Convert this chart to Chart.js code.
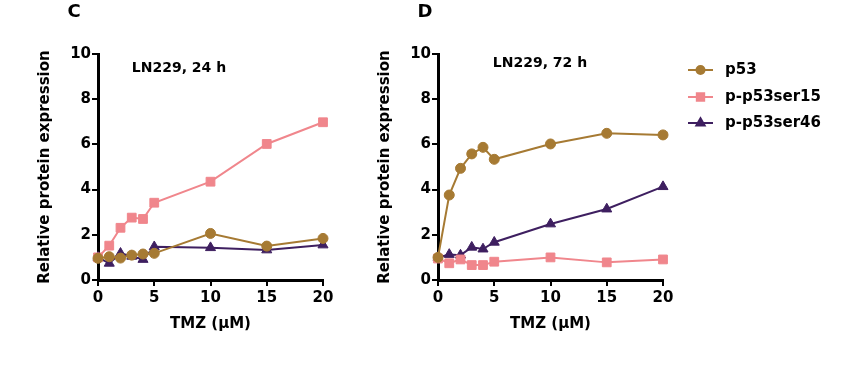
<!DOCTYPE html>
<html>
<head>
<meta charset="utf-8">
<script src="https://cdn.jsdelivr.net/npm/chart.js@4"></script>
<style>
  html, body { margin: 0; padding: 0; background: #fff; }
  #wrap { position: relative; width: 850px; height: 368px; overflow: hidden; }
  canvas { position: absolute; top: 0; }
  #cC { left: 0; }
  #cD { left: 340px; }
</style>
</head>
<body>
<div id="wrap">
  <canvas id="cC" width="340" height="368"></canvas>
  <canvas id="cD" width="510" height="368"></canvas>
</div>
<script>
const doses = [0, 1, 2, 3, 4, 5, 10, 15, 20];
const seriesNames = ['p53', 'p-p53ser15', 'p-p53ser46'];
const p53_24h   = [0.96, 1.03, 0.97, 1.10, 1.15, 1.18, 2.06, 1.50, 1.84];
const ser15_24h = [1.00, 1.52, 2.31, 2.76, 2.70, 3.42, 4.35, 6.02, 6.98];
const ser46_24h = [1.00, 0.74, 1.18, 1.05, 0.91, 1.47, 1.43, 1.33, 1.55];
const p53_72h   = [1.00, 3.76, 4.94, 5.58, 5.87, 5.34, 6.02, 6.49, 6.42];
const ser15_72h = [0.95, 0.74, 0.91, 0.66, 0.66, 0.81, 1.00, 0.78, 0.91];
const ser46_72h = [1.00, 1.13, 1.10, 1.45, 1.37, 1.67, 2.48, 3.14, 4.13];
const xTicks = [0, 5, 10, 15, 20];
const yTicks = [0, 2, 4, 6, 8, 10];

const colors = ['#a67a33', '#f0868c', '#3e1f60'];
const shapes = ['circle', 'rect', 'triangle'];
const radii = [5, 6.2, 5.8];

Chart.defaults.font.family = "'DejaVu Sans', sans-serif";
Chart.defaults.font.weight = 'bold';
Chart.defaults.color = '#000';

function pts(vals) { return doses.map((d, i) => ({ x: d, y: vals[i] })); }

function makeDatasets(list) {
  return list.map((vals, i) => ({
    label: seriesNames[i],
    data: pts(vals),
    borderColor: colors[i],
    backgroundColor: colors[i],
    pointBackgroundColor: colors[i],
    pointBorderColor: colors[i],
    pointStyle: shapes[i],
    pointRadius: radii[i],
    pointBorderWidth: 1,
    borderWidth: 2,
    tension: 0,
    clip: false
  }));
}

const textPlugin = {
  id: 'panelText',
  afterDraw(chart, args, opts) {
    const ctx = chart.ctx;
    ctx.save();
    ctx.fillStyle = '#000';
    ctx.textBaseline = 'middle';
    ctx.textAlign = 'center';
    ctx.font = "bold 18px 'DejaVu Sans'";
    ctx.fillText(opts.letter, opts.letterX, opts.letterY);
    ctx.font = "bold 14px 'DejaVu Sans'";
    ctx.fillText(opts.title, opts.titleX, opts.titleY);
    if (opts.legend) {
      const lx = opts.legendX, rows = opts.legendRows;
      chart.data.datasets.forEach((ds, i) => {
        const y = rows[i];
        ctx.strokeStyle = ds.borderColor;
        ctx.lineWidth = 2;
        ctx.beginPath();
        ctx.moveTo(lx, y);
        ctx.lineTo(lx + 25, y);
        ctx.stroke();
        ctx.fillStyle = ds.borderColor;
        Chart.helpers.drawPoint(ctx, {
          pointStyle: ds.pointStyle, radius: ds.pointRadius - 1, borderWidth: 1
        }, lx + 12.5, y);
        ctx.fill();
        ctx.fillStyle = '#000';
        ctx.textAlign = 'left';
        ctx.font = "bold 15px 'DejaVu Sans'";
        ctx.fillText(ds.label, lx + 37, y);
      });
    }
    ctx.restore();
  }
};

function makeChart(id, lists, padRight, yTitlePad, plugOpts) {
  return new Chart(document.getElementById(id), {
    type: 'line',
    data: { datasets: makeDatasets(lists) },
    plugins: [textPlugin],
    options: {
      responsive: false,
      animation: false,
      events: [],
      layout: { padding: { left: 0, top: 54, right: padRight, bottom: 0 } },
      plugins: {
        legend: { display: false },
        tooltip: { enabled: false },
        panelText: plugOpts
      },
      scales: {
        x: {
          type: 'linear', min: 0, max: 20,
          afterBuildTicks: s => { s.ticks = xTicks.map(v => ({ value: v })); },
          afterFit: s => { s.height = 88; },
          border: { display: true, color: '#000', width: 3 },
          grid: { drawOnChartArea: false, drawTicks: true, tickLength: 6, color: '#000', lineWidth: 2 },
          ticks: { font: { size: 15, weight: 'bold' }, color: '#000', padding: 3, maxRotation: 0 },
          title: { display: true, text: 'TMZ (µM)', font: { size: 15, weight: 'bold' }, color: '#000', padding: { top: 0, bottom: 35 } }
        },
        y: {
          type: 'linear', min: 0, max: 10,
          afterBuildTicks: s => { s.ticks = yTicks.map(v => ({ value: v })); },
          afterFit: s => { s.width = 98; },
          border: { display: true, color: '#000', width: 3 },
          grid: { drawOnChartArea: false, drawTicks: true, tickLength: 6, color: '#000', lineWidth: 2 },
          ticks: { font: { size: 15, weight: 'bold' }, color: '#000', padding: 1 },
          title: { display: true, text: 'Relative protein expression', font: { size: 15, weight: 'bold' }, color: '#000', padding: { top: yTitlePad, bottom: 0 } }
        }
      }
    }
  });
}

makeChart('cC', [p53_24h, ser15_24h, ser46_24h], 17, 36,
  { letter: 'C', letterX: 74, letterY: 12, title: 'LN229, 24 h', titleX: 179, titleY: 68, legend: false });
makeChart('cD', [p53_72h, ser15_72h, ser46_72h], 187, 36,
  { letter: 'D', letterX: 85, letterY: 12, title: 'LN229, 72 h', titleX: 200, titleY: 63, legend: true,
    legendX: 348, legendRows: [70, 97, 123] });
</script>
</body>
</html>
